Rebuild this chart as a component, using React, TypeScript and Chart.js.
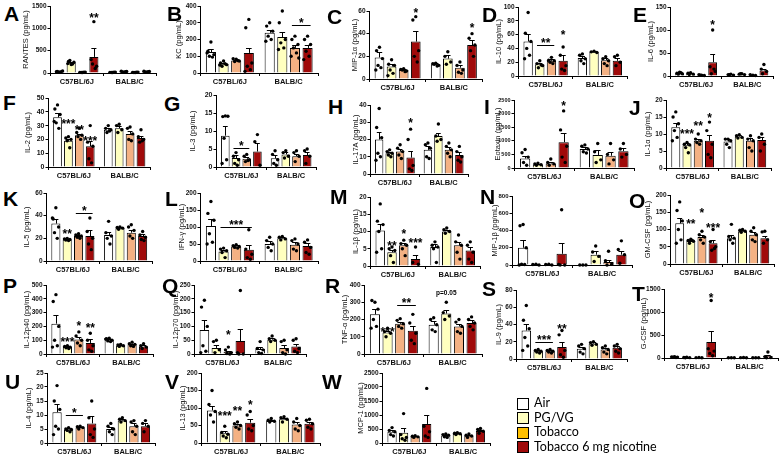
import React, { useEffect, useRef } from 'react';
import { Chart, registerables } from 'chart.js';
Chart.register(...registerables);

const groups = ['C57BL/6J', 'BALB/C'];
const treatments = ['Air', 'PG/VG', 'Tobacco', 'Tobacco 6 mg nicotine'];
const barColors = ['#FFFFFF', '#FFFFBF', '#F4B183', '#A00A0A'];
const legendColors = ['#FFFFFF', '#FFFFBF', '#FFC000', '#A00A0A'];

// Order in every series: C57 Air, C57 PG/VG, C57 Tobacco, C57 Tob6, BALB Air, BALB PG/VG, BALB Tobacco, BALB Tob6
// A RANTES
const rantesMean = [30, 230, 15, 360, 15, 30, 15, 30];
const rantesSem = [8, 22, 3, 210, 3, 8, 3, 8];
const rantesPts = [[20, 35, 45, 25, 30, 28], [190, 260, 240, 280, 200, 210], [10, 15, 20, 12, 18], [1150, 300, 150, 200, 100], [10, 15, 20, 12, 18], [20, 40, 35, 25, 30], [10, 15, 20, 12, 18], [20, 40, 35, 25, 30]];
const rantesStars = [[3, 1300, '**']];
const rantesBrackets = [];
// B KC
const kcMean = [125, 55, 75, 120, 240, 215, 150, 150];
const kcSem = [18, 7, 5, 32, 18, 28, 15, 18];
const kcPts = [[185, 130, 110, 100, 95, 120], [72, 60, 50, 40, 55, 48], [82, 85, 72, 68, 75], [320, 270, 60, 40, 20, 10], [300, 280, 250, 220, 200, 190], [370, 300, 200, 180, 150, 140], [220, 200, 170, 150, 120, 100, 90], [220, 200, 170, 130, 100, 80]];
const kcStars = [];
const kcBrackets = [[6, 7, 288, '*']];
// C MIP-1a
const mip1aMean = [19, 11, 8, 33, 13, 18, 10, 30];
const mip1aSem = [4.5, 2.5, 1, 9, 1, 3, 2, 4];
const mip1aPts = [[28, 25, 18, 12, 10, 8], [17, 13, 12, 8, 5, 3], [9, 8.5, 7, 8, 6.5], [55, 52, 25, 20, 15], [14, 13.5, 12, 13, 11.5], [24, 20, 15, 13], [15, 12, 8, 6, 5], [40, 36, 30, 25, 20]];
const mip1aStars = [[3, 61, '*'], [7, 48, '*']];
const mip1aBrackets = [];
// D IL-10
const il10Mean = [50, 17, 22, 22, 26, 35, 23, 22];
const il10Sem = [11, 2, 2, 8, 3, 1, 3, 4];
const il10Pts = [[92, 62, 50, 40, 30, 25], [22, 18, 15, 12, 16], [27, 23, 22, 20, 18], [42, 30, 15, 10, 8], [32, 30, 25, 22, 18], [36, 35, 34], [28, 25, 22, 18, 15], [30, 28, 20, 15]];
const il10Stars = [[3, 63, '*']];
const il10Brackets = [[1, 2, 45, '**']];
// E IL-6
const il6Mean = [6, 5, 2, 30, 3, 4, 2, 12];
const il6Sem = [1, 1, 0.5, 18, 1, 1, 0.5, 3];
const il6Pts = [[8, 6, 5, 4, 7], [7, 6, 4, 3], [2, 3, 1, 2], [100, 20, 10, 5, 15], [4, 3, 2, 3], [5, 4, 3, 5], [2, 3, 1], [25, 15, 10, 5]];
const il6Stars = [[3, 117, '*']];
const il6Brackets = [];
// F IL-2
const il2Mean = [36, 19, 23, 15, 27, 28, 24, 21];
const il2Sem = [3, 1.2, 1.2, 4, 1.5, 2, 2, 1.5];
const il2Pts = [[45, 42, 38, 32, 28, 33], [22, 21, 20, 19, 14], [28, 25, 23, 22, 20], [30, 18, 15, 6, 3], [30, 28, 27, 25, 26], [31, 30, 27, 25], [29, 28, 24, 20, 19], [27, 22, 20, 18, 19]];
const il2Stars = [[1, 33, '***'], [2, 29, '**'], [3, 21, '***']];
const il2Brackets = [];
// G IL-3
const il3Mean = [8.7, 2.5, 2.3, 4.3, 2.4, 3.5, 3, 3.3];
const il3Sem = [2.6, 0.9, 0.5, 2.5, 0.8, 0.6, 0.7, 0.8];
const il3Pts = [[14.2, 14, 14.1, 8, 2, 1], [4, 3, 2, 1, 0.5], [3.5, 3, 2, 1.5, 1.8], [9, 7, 0.5], [4.5, 3.5, 2, 1, 0.5], [4.5, 4, 3, 2.5], [4.5, 4, 3, 1.5], [5, 4.5, 3, 1]];
const il3Stars = [];
const il3Brackets = [[1, 2, 5.3, '*']];
// H IL-17A
const il17Mean = [20, 12, 13, 9.5, 14, 22, 14, 11];
const il17Sem = [4.5, 1, 1.5, 4, 2, 2, 1.5, 1.5];
const il17Pts = [[38, 27, 21, 12, 10, 8], [14, 13, 12, 11, 10], [17, 15, 13, 11, 9], [26, 20, 5, 3, 2], [18, 17, 15, 10, 9], [29, 22, 20, 19], [18, 16, 14, 12, 10], [16, 13, 10, 8, 7]];
const il17Stars = [[3, 31, '*']];
const il17Brackets = [];
// I Eotaxin
const eotaxinMean = [350, 130, 170, 950, 700, 480, 450, 620];
const eotaxinSem = [100, 20, 40, 350, 60, 180, 130, 100];
const eotaxinPts = [[680, 560, 400, 200, 100], [180, 150, 120, 100], [330, 200, 150, 100], [2100, 1400, 800, 400, 200], [850, 800, 700, 600, 550], [900, 600, 300, 200], [900, 500, 300, 150], [900, 700, 500, 400]];
const eotaxinStars = [[3, 2400, '*']];
const eotaxinBrackets = [];
// J IL-1a
const il1aMean = [12, 6.7, 8, 8, 7.8, 9.3, 8, 8.2];
const il1aSem = [1.1, 0.6, 0.5, 1.6, 0.6, 0.3, 0.8, 1];
const il1aPts = [[16.5, 15, 13, 11, 9, 8], [7.5, 7, 6.8, 6, 4.5], [10, 8.5, 8, 7.5, 7], [13.5, 11, 7, 4, 3], [8.5, 8.5, 8, 7, 6], [9.8, 9.5, 9, 8.8], [9.5, 8.5, 8, 6, 5], [10, 9, 7, 5]];
const il1aStars = [[1, 11, '***'], [2, 13.3, '**'], [3, 15.5, '*']];
const il1aBrackets = [];
// K IL-5
const il5Mean = [33, 19, 22, 22, 23, 29, 25, 22];
const il5Sem = [4, 0.7, 1, 5.5, 2.5, 1, 2.5, 1.5];
const il5Pts = [[47, 37, 30, 25, 20, 38], [20, 19.5, 19, 18.5, 18], [24, 23, 22, 21, 20], [38, 26, 20, 15, 10], [35, 25, 22, 20, 15], [30, 29.5, 29, 28], [32, 30, 27, 22, 20], [26, 23, 21, 19, 18]];
const il5Stars = [[1, 26.5, '**']];
const il5Brackets = [[2, 3, 42, '*']];
// L IFN-g
const ifngMean = [103, 28, 43, 33, 50, 67, 48, 44];
const ifngSem = [20, 5, 3, 15, 8, 3, 8, 9];
const ifngPts = [[175, 140, 120, 80, 55, 50], [38, 35, 30, 25, 10], [48, 45, 43, 40, 38], [92, 35, 20, 10, 5], [70, 60, 50, 40, 30], [72, 70, 65, 62], [65, 60, 50, 35, 30], [62, 55, 40, 25, 20]];
const ifngStars = [];
const ifngBrackets = [[1, 3, 100, '***']];
// M IL-1b
const il1bMean = [10.3, 4, 6, 2, 5.5, 10, 6, 4.5];
const il1bSem = [2, 0.7, 0.8, 1.2, 1, 0.5, 1, 1];
const il1bPts = [[18, 13, 12, 10, 5, 4], [5.5, 5, 4.5, 3, 1], [7.5, 6.5, 6, 5, 3], [5.5, 1, 0.5], [7, 6, 5.5, 5, 1], [11, 10.5, 10, 9.5], [9, 7, 6, 4, 2], [7, 6, 4, 2, 1]];
const il1bStars = [[1, 6.8, '**'], [2, 10, '*'], [3, 7.6, '***']];
const il1bBrackets = [];
// N MIP-1b
const mip1bMean = [200, 5, 5, 130, 0, 120, 35, 120];
const mip1bSem = [90, 3, 3, 130, 0, 40, 25, 40];
const mip1bPts = [[470, 455, 200, 10, 5, 0], [10, 5, 0], [10, 5, 0], [640, 5, 0, 0], [0, 0, 0], [220, 150, 100, 40], [160, 50, 10, 0], [280, 180, 120, 20]];
const mip1bStars = [];
const mip1bBrackets = [];
// O GM-CSF
const gmcsfMean = [118, 67, 78, 60, 75, 95, 85, 75];
const gmcsfSem = [15, 3, 6, 10, 8, 3, 7, 7];
const gmcsfPts = [[180, 155, 125, 100, 70, 60], [72, 68, 66, 60, 68], [95, 85, 78, 70, 60], [100, 65, 50, 40, 45], [115, 80, 75, 70, 60], [100, 98, 95, 92], [105, 95, 85, 70, 65], [95, 93, 70, 60]];
const gmcsfStars = [[1, 125, '**'], [2, 155, '*'], [3, 113, '***']];
const gmcsfBrackets = [];
// P IL-12p40
const p40Mean = [220, 50, 105, 80, 105, 60, 70, 55];
const p40Sem = [65, 5, 20, 30, 5, 4, 5, 7];
const p40Pts = [[430, 380, 200, 100, 60, 50], [60, 55, 50, 45, 40], [160, 130, 100, 80, 60], [150, 100, 60, 30, 20], [115, 110, 100, 95, 90, 108], [70, 65, 60, 55], [85, 75, 70, 60, 55], [75, 60, 50, 40]];
const p40Stars = [[1, 105, '***'], [2, 225, '*'], [3, 210, '**']];
const p40Brackets = [];
// Q IL-12p70
const p70Mean = [87, 22, 8, 47, 18, 52, 22, 27];
const p70Sem = [35, 10, 4, 45, 7, 5, 10, 10];
const p70Pts = [[195, 170, 100, 30, 10, 5], [50, 45, 15, 5], [25, 15, 5, 2, 0], [230, 5, 0, 0], [45, 20, 15, 5, 2], [65, 55, 50, 45], [50, 45, 15, 5, 0], [55, 50, 20, 10, 5]];
const p70Stars = [[2, 78, '*']];
const p70Brackets = [];
// R TNF-a
const tnfMean = [230, 125, 175, 135, 170, 235, 160, 180];
const tnfSem = [30, 10, 12, 30, 20, 20, 15, 15];
const tnfPts = [[300, 310, 260, 200, 160, 150], [150, 130, 120, 100], [205, 195, 175, 160, 150], [230, 180, 120, 80, 60], [210, 200, 170, 140, 130], [300, 240, 220, 200], [200, 185, 160, 130, 120], [215, 200, 180, 160, 140]];
const tnfStars = [[1, 145, '***'], [5, 355, 'p=0.05']];
const tnfBrackets = [[2, 3, 285, '**']];
// S IL-9
const il9Mean = [33, 9, 9, 14, 12, 18, 11, 13];
const il9Sem = [8, 1, 1, 6, 2, 1.5, 2, 2];
const il9Pts = [[62, 45, 35, 25, 15, 10], [11, 10, 9, 8, 7], [11, 10, 9, 8, 7], [33, 28, 10, 5, 2], [17, 15, 12, 8, 6], [20, 19, 17, 16], [15, 13, 11, 8, 6], [17, 15, 12, 9, 7]];
const il9Stars = [[3, 38, '**']];
const il9Brackets = [[1, 2, 20, '***']];
// T G-CSF
const gcsfMean = [20, 10, 8, 350, 5, 8, 5, 40];
const gcsfSem = [5, 3, 2, 240, 1, 2, 1, 30];
const gcsfPts = [[30, 25, 20, 15, 10], [15, 10, 8, 5], [10, 8, 6], [1250, 200, 150, 100, 50], [6, 5, 4], [10, 8, 6], [6, 5, 4], [130, 30, 10, 5]];
const gcsfStars = [[3, 1370, '*']];
const gcsfBrackets = [];
// U IL-4
const il4Mean = [11, 4.8, 5.5, 7, 5, 8, 6, 6];
const il4Sem = [3, 0.4, 0.3, 2.5, 0.8, 0.5, 1, 1];
const il4Pts = [[20.5, 15, 12, 6, 5, 3], [5.5, 5, 4.8, 4.5, 4], [6, 5.8, 5.5, 5], [15, 9, 5, 3, 2], [7, 6, 5, 4, 3], [9, 8.5, 8, 7.5], [8, 7.5, 6, 4, 3], [8, 7, 6, 4]];
const il4Stars = [];
const il4Brackets = [[1, 2, 10, '*']];
// V IL-13
const il13Mean = [93, 28, 50, 58, 63, 68, 53, 55];
const il13Sem = [12, 6, 4, 10, 3, 4, 6, 6];
const il13Pts = [[150, 110, 90, 80, 60], [48, 30, 25, 20, 15], [60, 55, 50, 45, 40], [90, 80, 50, 40, 35], [70, 65, 62, 60], [75, 72, 68, 60], [70, 60, 50, 40, 35], [68, 65, 55, 45, 40]];
const il13Stars = [[1, 86, '***'], [2, 100, '**'], [3, 117, '*']];
const il13Brackets = [];
// W MCP-1
const mcp1Mean = [400, 370, 230, 680, 270, 330, 260, 430];
const mcp1Sem = [60, 150, 20, 330, 30, 20, 30, 40];
const mcp1Pts = [[550, 450, 400, 300, 250], [1050, 300, 200, 150, 100], [260, 240, 220, 200], [1950, 600, 400, 250, 200], [320, 300, 280, 220, 200], [370, 350, 330, 300], [320, 280, 250, 200], [520, 480, 420, 350]];
const mcp1Stars = [];
const mcp1Brackets = [];

const FONT = '"Liberation Sans", Arial, sans-serif';
const PT = 7;
const PR = 2;
const XH = 14;
const TITLE_SIZE = 7.5;
const JITTER = [0, -0.3, 0.3, -0.15, 0.15, -0.38, 0.38];

// box: [axisX, rightX, topY, zeroY]; d: distance from axis to y-title centre; tf: tick font size
const panels = [
  { id: 'A', title: 'RANTES (pg/mL)', max: 1500, step: 500, mean: rantesMean, sem: rantesSem, pts: rantesPts, stars: rantesStars, brackets: rantesBrackets, box: [50, 156, 6, 73], d: 25, tf: 6.5, letter: [4, 3] },
  { id: 'B', title: 'KC (pg/mL)', max: 400, step: 100, mean: kcMean, sem: kcSem, pts: kcPts, stars: kcStars, brackets: kcBrackets, box: [200, 318, 6, 73], d: 22, tf: 6.5, letter: [167, 3] },
  { id: 'C', title: 'MIP-1α (pg/mL)', max: 60, step: 20, mean: mip1aMean, sem: mip1aSem, pts: mip1aPts, stars: mip1aStars, brackets: mip1aBrackets, box: [369, 482, 11, 79], d: 15, tf: 6.5, letter: [327, 6] },
  { id: 'D', title: 'IL-10 (pg/mL)', max: 100, step: 20, mean: il10Mean, sem: il10Sem, pts: il10Pts, stars: il10Stars, brackets: il10Brackets, box: [518, 627, 7, 76], d: 20, tf: 6.5, letter: [482, 4] },
  { id: 'E', title: 'IL-6 (pg/mL)', max: 150, step: 50, mean: il6Mean, sem: il6Sem, pts: il6Pts, stars: il6Stars, brackets: il6Brackets, box: [670, 773, 7, 76], d: 20, tf: 6.5, letter: [633, 4] },
  { id: 'F', title: 'IL-2 (pg/mL)', max: 50, step: 10, mean: il2Mean, sem: il2Sem, pts: il2Pts, stars: il2Stars, brackets: il2Brackets, box: [48, 150, 98, 167], d: 21, tf: 7, letter: [3, 92] },
  { id: 'G', title: 'IL-3 (pg/mL)', max: 20, step: 5, mean: il3Mean, sem: il3Sem, pts: il3Pts, stars: il3Stars, brackets: il3Brackets, box: [216, 316, 95, 167], d: 24, tf: 7, letter: [164, 93] },
  { id: 'H', title: 'IL-17A (pg/mL)', max: 40, step: 10, mean: il17Mean, sem: il17Sem, pts: il17Pts, stars: il17Stars, brackets: il17Brackets, box: [370, 468, 105, 174], d: 15, tf: 6.5, letter: [328, 96] },
  { id: 'I', title: 'Eotaxin (pg/mL)', max: 2500, step: 500, mean: eotaxinMean, sem: eotaxinSem, pts: eotaxinPts, stars: eotaxinStars, brackets: eotaxinBrackets, box: [514, 634, 100, 168], d: 17, tf: 5.5, letter: [484, 96] },
  { id: 'J', title: 'IL-1α (pg/mL)', max: 20, step: 5, mean: il1aMean, sem: il1aSem, pts: il1aPts, stars: il1aStars, brackets: il1aBrackets, box: [666, 771, 100, 168], d: 19, tf: 6.5, letter: [629, 97] },
  { id: 'K', title: 'IL-5 (pg/mL)', max: 60, step: 20, mean: il5Mean, sem: il5Sem, pts: il5Pts, stars: il5Stars, brackets: il5Brackets, box: [46, 152, 193, 261], d: 20, tf: 6.5, letter: [3, 188] },
  { id: 'L', title: 'IFN-γ (pg/mL)', max: 200, step: 50, mean: ifngMean, sem: ifngSem, pts: ifngPts, stars: ifngStars, brackets: ifngBrackets, box: [200, 318, 193, 261], d: 19, tf: 6.5, letter: [165, 188] },
  { id: 'M', title: 'IL-1β (pg/mL)', max: 20, step: 5, mean: il1bMean, sem: il1bSem, pts: il1bPts, stars: il1bStars, brackets: il1bBrackets, box: [370, 480, 197, 266], d: 15, tf: 6.5, letter: [330, 186] },
  { id: 'N', title: 'MIP-1β (pg/mL)', max: 800, step: 200, mean: mip1bMean, sem: mip1bSem, pts: mip1bPts, stars: mip1bStars, brackets: mip1bBrackets, box: [512, 632, 196, 265], d: 18, tf: 6, letter: [480, 186] },
  { id: 'O', title: 'GM-CSF (pg/mL)', max: 200, step: 50, mean: gmcsfMean, sem: gmcsfSem, pts: gmcsfPts, stars: gmcsfStars, brackets: gmcsfBrackets, box: [670, 774, 195, 264], d: 23, tf: 6.5, letter: [629, 190] },
  { id: 'P', title: 'IL-12p40 (pg/mL)', max: 500, step: 100, mean: p40Mean, sem: p40Sem, pts: p40Pts, stars: p40Stars, brackets: p40Brackets, box: [46, 153, 285, 354], d: 20, tf: 6.5, letter: [3, 275] },
  { id: 'Q', title: 'IL-12p70 (pg/mL)', max: 250, step: 50, mean: p70Mean, sem: p70Sem, pts: p70Pts, stars: p70Stars, brackets: p70Brackets, box: [194, 306, 285, 354], d: 19, tf: 6.5, letter: [162, 275] },
  { id: 'R', title: 'TNF-α (pg/mL)', max: 400, step: 100, mean: tnfMean, sem: tnfSem, pts: tnfPts, stars: tnfStars, brackets: tnfBrackets, box: [364, 482, 285, 354], d: 20, tf: 6.5, letter: [325, 275] },
  { id: 'S', title: 'IL-9 (pg/mL)', max: 80, step: 20, mean: il9Mean, sem: il9Sem, pts: il9Pts, stars: il9Stars, brackets: il9Brackets, box: [516, 627, 290, 359], d: 18, tf: 6.5, letter: [482, 278] },
  { id: 'T', title: 'G-CSF (pg/mL)', max: 1500, step: 500, mean: gcsfMean, sem: gcsfSem, pts: gcsfPts, stars: gcsfStars, brackets: gcsfBrackets, box: [664, 778, 289, 358], d: 21, tf: 6.5, letter: [632, 283] },
  { id: 'U', title: 'IL-4 (pg/mL)', max: 25, step: 5, mean: il4Mean, sem: il4Sem, pts: il4Pts, stars: il4Stars, brackets: il4Brackets, box: [47, 155, 373, 443], d: 19, tf: 6.5, letter: [5, 371] },
  { id: 'V', title: 'IL-13 (pg/mL)', max: 200, step: 50, mean: il13Mean, sem: il13Sem, pts: il13Pts, stars: il13Stars, brackets: il13Brackets, box: [201, 320, 373, 443], d: 19, tf: 6.5, letter: [165, 371] },
  { id: 'W', title: 'MCP-1 (pg/mL)', max: 2500, step: 500, mean: mcp1Mean, sem: mcp1Sem, pts: mcp1Pts, stars: mcp1Stars, brackets: mcp1Brackets, box: [382, 490, 373, 443], d: 22, tf: 6.5, letter: [322, 371] },
];

function overlayPlugin(p) {
  return {
    id: 'overlay' + p.id,
    afterDatasetsDraw(chart) {
      const ctx = chart.ctx;
      const ys = chart.scales.y;
      const barAt = (idx) => chart.getDatasetMeta(idx % 4).data[Math.floor(idx / 4)];
      ctx.save();
      ctx.strokeStyle = '#000';
      ctx.fillStyle = '#000';
      ctx.lineWidth = 1;
      for (let idx = 0; idx < 8; idx++) {
        const b = barAt(idx);
        const x = b.x;
        const w = b.width;
        const yM = ys.getPixelForValue(p.mean[idx]);
        const yT = ys.getPixelForValue(p.mean[idx] + p.sem[idx]);
        if (p.sem[idx] > 0) {
          ctx.beginPath();
          ctx.moveTo(Math.round(x) + 0.5, yM);
          ctx.lineTo(Math.round(x) + 0.5, Math.round(yT) + 0.5);
          ctx.moveTo(x - w * 0.28, Math.round(yT) + 0.5);
          ctx.lineTo(x + w * 0.28, Math.round(yT) + 0.5);
          ctx.stroke();
        }
        p.pts[idx].forEach((v, k) => {
          const dx = JITTER[k % JITTER.length] * w;
          ctx.beginPath();
          ctx.arc(x + dx, ys.getPixelForValue(v), 1.7, 0, Math.PI * 2);
          ctx.fill();
        });
      }
      const starText = (txt, x, y) => {
        if (txt.startsWith('p=')) {
          ctx.font = 'bold 6.5px ' + FONT;
          ctx.textAlign = 'center';
          ctx.textBaseline = 'middle';
          ctx.fillText(txt, x, y);
          return;
        }
        const size = 12;
        ctx.font = 'bold ' + size + 'px ' + FONT;
        ctx.textAlign = 'center';
        ctx.textBaseline = 'alphabetic';
        ctx.fillText(txt, x, y + 0.58 * size);
      };
      p.stars.forEach(([idx, v, txt]) => {
        const b = barAt(idx);
        starText(txt, b.x, ys.getPixelForValue(v));
      });
      p.brackets.forEach(([i1, i2, v, txt]) => {
        const b1 = barAt(i1);
        const b2 = barAt(i2);
        const y = Math.round(ys.getPixelForValue(v)) + 0.5;
        ctx.beginPath();
        ctx.moveTo(b1.x - b1.width * 0.3, y);
        ctx.lineTo(b2.x + b2.width * 0.3, y);
        ctx.stroke();
        starText(txt, (b1.x + b2.x) / 2, y - 5);
      });
      ctx.restore();
    },
  };
}

function yWidth(p) {
  return p.d + TITLE_SIZE * 0.6;
}

function makeConfig(p) {
  return {
    type: 'bar',
    data: {
      labels: groups,
      datasets: treatments.map((t, i) => ({
        label: t,
        data: [p.mean[i], p.mean[4 + i]],
        backgroundColor: barColors[i],
        borderColor: '#000',
        borderWidth: 1,
        categoryPercentage: 0.86,
        barPercentage: 0.8,
      })),
    },
    options: {
      responsive: false,
      maintainAspectRatio: false,
      animation: false,
      layout: { padding: { top: PT, right: PR, left: 0, bottom: 0 } },
      plugins: { legend: { display: false }, tooltip: { enabled: false }, title: { display: false } },
      scales: {
        x: {
          grid: { offset: true, drawOnChartArea: false, tickLength: 3, color: '#000' },
          border: { color: '#000', width: 1 },
          ticks: { font: { family: FONT, size: 7.5, weight: 'bold' }, color: '#111', padding: 1, maxRotation: 0, autoSkip: false },
          afterFit: (s) => { s.height = XH; },
        },
        y: {
          min: 0,
          max: p.max,
          ticks: { stepSize: p.step, font: { family: FONT, size: p.tf, weight: 'bold' }, color: '#111', padding: 1, callback: (v) => String(v) },
          grid: { drawOnChartArea: false, tickLength: 3, color: '#000' },
          border: { color: '#000', width: 1 },
          title: { display: true, text: p.title, font: { family: FONT, size: TITLE_SIZE }, color: '#111', padding: 0 },
          afterFit: (s) => { s.width = yWidth(p); },
        },
      },
    },
    plugins: [overlayPlugin(p)],
  };
}

function PanelChart({ p }) {
  const ref = useRef(null);
  useEffect(() => {
    const chart = new Chart(ref.current, makeConfig(p));
    return () => chart.destroy();
  }, [p]);
  const [ax, rx, ty, zy] = p.box;
  const yw = yWidth(p);
  const left = ax - yw;
  const top = ty - PT;
  const w = rx - ax + yw + PR;
  const h = zy - ty + PT + XH;
  return (
    <>
      <canvas ref={ref} width={w} height={h} style={{ position: 'absolute', left, top, width: w, height: h }} />
      <div style={{ position: 'absolute', left: p.letter[0], top: p.letter[1], font: 'bold 21px ' + FONT, lineHeight: 1, color: '#000' }}>{p.id}</div>
    </>
  );
}

export default function App() {
  return (
    <div style={{ position: 'absolute', left: 0, top: 0, width: 780, height: 456, background: '#fff', overflow: 'hidden' }}>
      {panels.map((p) => <PanelChart key={p.id} p={p} />)}
      {treatments.map((t, i) => (
        <div key={t} style={{ position: 'absolute', left: 517, top: 397 + i * 14.5, height: 13, display: 'flex', alignItems: 'center' }}>
          <div style={{ width: 12, height: 12, boxSizing: 'border-box', border: '1.5px solid #000', background: legendColors[i], marginRight: 5 }} />
          <span style={{ font: '12.5px Lato, "Open Sans", sans-serif', color: '#000', lineHeight: 1 }}>{t}</span>
        </div>
      ))}
    </div>
  );
}
